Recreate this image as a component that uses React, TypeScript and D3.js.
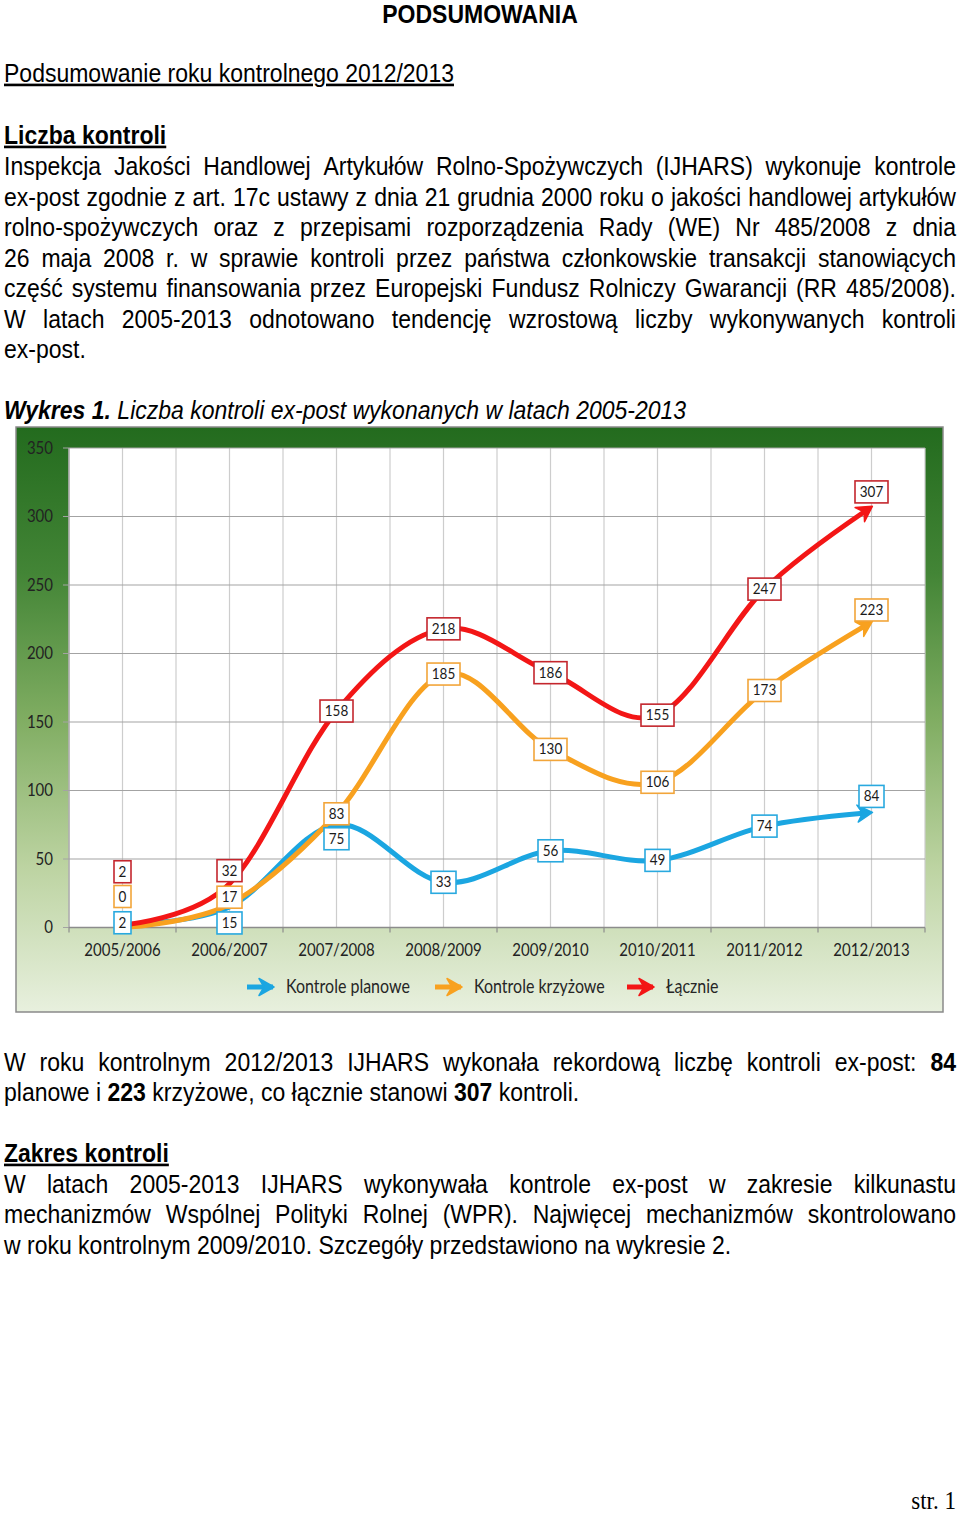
import React from 'react';
import * as d3 from 'd3';

// ---------- DATA ----------
const categories = ['2005/2006', '2006/2007', '2007/2008', '2008/2009', '2009/2010', '2010/2011', '2011/2012', '2012/2013'];
const planowe = [2, 15, 75, 33, 56, 49, 74, 84];
const krzyzowe = [0, 17, 83, 185, 130, 106, 173, 223];
const lacznie = [2, 32, 158, 218, 186, 155, 247, 307];
const yTicks = [0, 50, 100, 150, 200, 250, 300, 350];
const seriesNames = ['Kontrole planowe', 'Kontrole krzyżowe', 'Łącznie'];

const pageTitle = 'PODSUMOWANIA';
const subTitle = 'Podsumowanie roku kontrolnego 2012/2013';
const heading1 = 'Liczba kontroli';
const para1 = [
  'Inspekcja Jakości Handlowej Artykułów Rolno-Spożywczych (IJHARS) wykonuje kontrole',
  'ex-post zgodnie z art. 17c ustawy z dnia 21 grudnia 2000 roku o jakości handlowej artykułów',
  'rolno-spożywczych oraz z przepisami rozporządzenia Rady (WE) Nr 485/2008 z dnia',
  '26 maja 2008 r. w sprawie kontroli przez państwa członkowskie transakcji stanowiących',
  'część systemu finansowania przez Europejski Fundusz Rolniczy Gwarancji (RR 485/2008).',
  'W latach 2005-2013 odnotowano tendencję wzrostową liczby wykonywanych kontroli',
  'ex-post.',
];
const chartCaptionBold = 'Wykres 1.';
const chartCaption = ' Liczba kontroli ex-post wykonanych w latach 2005-2013';
const para2 = [
  'W roku kontrolnym 2012/2013 IJHARS wykonała rekordową liczbę kontroli ex-post: **84**',
  'planowe i **223** krzyżowe, co łącznie stanowi **307** kontroli.',
];
const heading2 = 'Zakres kontroli';
const para3 = [
  'W latach 2005-2013 IJHARS wykonywała kontrole ex-post w zakresie kilkunastu',
  'mechanizmów Wspólnej Polityki Rolnej (WPR). Najwięcej mechanizmów skontrolowano',
  'w roku kontrolnym 2009/2010. Szczegóły przedstawiono na wykresie 2.',
];
const footer = 'str. 1';

// ---------- STYLE / LAYOUT ----------
const S = 1.14; // vertical stretch of glyphs in the reference
const FS = 23;
const FONT = "'Liberation Sans', Arial, sans-serif";
const CFONT = "Lato, 'Open Sans', sans-serif";
const LEFT = 4;
const RIGHT = 956;

let ctx: CanvasRenderingContext2D | null = null;
function measure(t: string, bold: boolean, italic = false, size = FS) {
  if (!ctx) ctx = document.createElement('canvas').getContext('2d');
  ctx!.font = `${italic ? 'italic ' : ''}${bold ? 'bold ' : ''}${size}px "Liberation Sans"`;
  return ctx!.measureText(t).width;
}

function parseWords(line: string) {
  return line.split(' ').map((w) => {
    const b = w.startsWith('**') && w.endsWith('**');
    return { t: b ? w.slice(2, -2) : w.replace(/\*\*/g, ''), b };
  });
}

function JLine({ line, y }: { line: string; y: number }) {
  const words = parseWords(line);
  const widths = words.map((w) => measure(w.t, w.b));
  const total = widths.reduce((a, b) => a + b, 0);
  const gap = (RIGHT - LEFT - total) / (words.length - 1);
  let cx = 0;
  const xs = widths.map((w) => {
    const v = cx;
    cx += w + gap;
    return v;
  });
  return (
    <text transform={`translate(${LEFT},${y}) scale(1,${S})`} fontFamily={FONT} fontSize={FS} fill="#000">
      {words.map((w, i) => (
        <tspan key={i} x={xs[i]} y={0} fontWeight={w.b ? 'bold' : 'normal'}>
          {w.t}
        </tspan>
      ))}
    </text>
  );
}

function PLine({ line, y, x = LEFT, weight = 'normal', underline = false, anchor = 'start' }: any) {
  const parts = line.split(/(\*\*[^*]+\*\*)/).filter((p: string) => p.length);
  return (
    <text
      transform={`translate(${x},${y}) scale(1,${S})`}
      fontFamily={FONT}
      fontSize={FS}
      fontWeight={weight}
      textAnchor={anchor}
      textDecoration={underline ? 'underline' : undefined}
      fill="#000"
      style={{ whiteSpace: 'pre' }}
    >
      {parts.map((p: string, i: number) =>
        p.startsWith('**') ? (
          <tspan key={i} fontWeight="bold">
            {p.slice(2, -2)}
          </tspan>
        ) : (
          <tspan key={i}>{p}</tspan>
        )
      )}
    </text>
  );
}

function Chart() {
  const frame = { x: 16, y: 427, w: 927, h: 585 };
  const plot = { l: 69, r: 925, t: 448, b: 927.5 };
  const x = d3.scalePoint<string>().domain(categories).range([plot.l, plot.r]).padding(0.5);
  const y = d3.scaleLinear().domain([0, 350]).range([plot.b, plot.t]);
  const step = x.step();
  const line = d3
    .line<number>()
    .x((_, i) => x(categories[i])!)
    .y((d) => y(d))
    .curve(d3.curveCardinal.tension(0));

  const series = [
    { name: seriesNames[0], values: planowe, color: '#1ba6e1', border: '#29a9df', id: 'ab', dy: [-2, 16, 14, 0, 0, 0, 0, -16] },
    { name: seriesNames[1], values: krzyzowe, color: '#f8a11f', border: '#f2a53a', id: 'ao', dy: [-31, -7, 0, 0, 0, 0, 0, -12] },
    { name: seriesNames[2], values: lacznie, color: '#f31616', border: '#c4262d', id: 'ar', dy: [-53, -13, 0, 0, 0, 0, 0, -15] },
  ];

  const vLines = d3.range(categories.length * 2 + 1).map((i) => plot.l + (i * step) / 2);
  const bounds = d3.range(categories.length + 1).map((i) => plot.l + i * step);

  const shorten = (el: SVGPathElement | null) => {
    if (el) {
      const L = el.getTotalLength();
      el.setAttribute('stroke-dasharray', `${L - 9} 2000`);
    }
  };

  const legendX = [247, 435, 627];
  const legendY = 987;

  return (
    <g>
      <defs>
        <linearGradient id="bg" x1="0" y1="0" x2="0" y2="1">
          <stop offset="0" stopColor="#236b1e" />
          <stop offset="0.25" stopColor="#438536" />
          <stop offset="0.5" stopColor="#80ad62" />
          <stop offset="0.75" stopColor="#bcd3a1" />
          <stop offset="1" stopColor="#e8f0de" />
        </linearGradient>
        {series.map((s) => (
          <marker
            key={s.id}
            id={s.id}
            viewBox="-16 -10 18 20"
            refX={0}
            refY={0}
            markerWidth={18}
            markerHeight={20}
            markerUnits="userSpaceOnUse"
            orient="auto"
          >
            <path d="M1,0 L-14,-8.5 L-9,0 L-14,8.5 Z" fill={s.color} stroke={s.color} strokeWidth={1.5} strokeLinejoin="round" />
          </marker>
        ))}
      </defs>
      <rect x={frame.x} y={frame.y} width={frame.w} height={frame.h} fill="url(#bg)" stroke="#8a8a8a" strokeWidth={1.5} />
      <rect x={plot.l} y={plot.t} width={plot.r - plot.l} height={plot.b - plot.t} fill="#fff" />
      {vLines.map((v, i) => (
        <line key={'v' + i} x1={v} x2={v} y1={plot.t} y2={plot.b} stroke="#cdcdcd" strokeWidth={1.2} />
      ))}
      {yTicks.map((t) => (
        <line key={'h' + t} x1={plot.l - 6} x2={plot.r} y1={y(t)} y2={y(t)} stroke="#a3a3a3" strokeWidth={1.2} />
      ))}
      <line x1={plot.l} x2={plot.l} y1={plot.t} y2={plot.b} stroke="#a3a3a3" strokeWidth={1.2} />
      <line x1={plot.l} x2={plot.r} y1={plot.b} y2={plot.b} stroke="#8c8c8c" strokeWidth={1.5} />
      {bounds.map((b, i) => (
        <line key={'t' + i} x1={b} x2={b} y1={plot.b} y2={plot.b + 5} stroke="#8c8c8c" strokeWidth={1.2} />
      ))}
      {yTicks.map((t) => (
        <text key={'yl' + t} transform={`translate(53,${y(t) + 5.5}) scale(1,${S})`} textAnchor="end" fontFamily={CFONT} fontSize={15} fill="#222">
          {t}
        </text>
      ))}
      {categories.map((c) => (
        <text key={c} transform={`translate(${x(c)},${956}) scale(1,${S})`} textAnchor="middle" fontFamily={CFONT} fontSize={15} fill="#222">
          {c}
        </text>
      ))}
      {series.map((s) => (
        <path
          key={s.id}
          ref={shorten}
          d={line(s.values)!}
          fill="none"
          stroke={s.color}
          strokeWidth={5}
          strokeLinecap="butt"
          markerEnd={`url(#${s.id})`}
        />
      ))}
      {series.map((s) =>
        s.values.map((v, i) => {
          const cx = x(categories[i])!;
          const cy = y(v) + s.dy[i];
          const label = String(v);
          const w = label.length * 8 + 9;
          return (
            <g key={s.id + i}>
              <rect x={cx - w / 2} y={cy - 11} width={w} height={22} fill="#fff" stroke={s.border} strokeWidth={1.6} />
              <text transform={`translate(${cx},${cy + 5}) scale(1,${S})`} textAnchor="middle" fontFamily={CFONT} fontSize={13.5} fill="#1a1a1a">
                {label}
              </text>
            </g>
          );
        })
      )}
      {series.map((s, i) => (
        <g key={'lg' + i}>
          <line x1={legendX[i]} x2={legendX[i] + 26} y1={legendY} y2={legendY} stroke={s.color} strokeWidth={5} markerEnd={`url(#${s.id})`} />
          <text transform={`translate(${legendX[i] + 39},${legendY + 5.5}) scale(1,${S})`} fontFamily={CFONT} fontSize={16} fill="#262626">
            {s.name}
          </text>
        </g>
      ))}
    </g>
  );
}

export default function App() {
  const base1 = 175;
  const lh = 30.5;
  return (
    <svg width={960} height={1513} style={{ position: 'absolute', left: 0, top: 0, background: '#fff' }}>
      <rect x={0} y={0} width={960} height={1513} fill="#fff" />
      <PLine line={pageTitle} y={23} x={480} weight="bold" anchor="middle" />
      <PLine line={subTitle} y={81.5} underline />
      <PLine line={heading1} y={143.5} weight="bold" underline />
      {para1.map((l, i) =>
        i < para1.length - 1 ? <JLine key={i} line={l} y={base1 + i * lh} /> : <PLine key={i} line={l} y={base1 + i * lh} />
      )}
      <text transform={`translate(${LEFT},418.5) scale(1,${S})`} fontFamily={FONT} fontSize={FS} fontStyle="italic" fill="#000" style={{ whiteSpace: 'pre' }}>
        <tspan fontWeight="bold">{chartCaptionBold}</tspan>
        <tspan>{chartCaption}</tspan>
      </text>
      <Chart />
      <JLine line={para2[0]} y={1070.5} />
      <PLine line={para2[1]} y={1101} />
      <PLine line={heading2} y={1161.5} weight="bold" underline />
      <JLine line={para3[0]} y={1192.5} />
      <JLine line={para3[1]} y={1223} />
      <PLine line={para3[2]} y={1253.5} />
      <text transform={`translate(956,1509) scale(1,${S})`} textAnchor="end" fontFamily="'Liberation Serif', 'Times New Roman', serif" fontSize={23} fill="#000">
        {footer}
      </text>
    </svg>
  );
}
